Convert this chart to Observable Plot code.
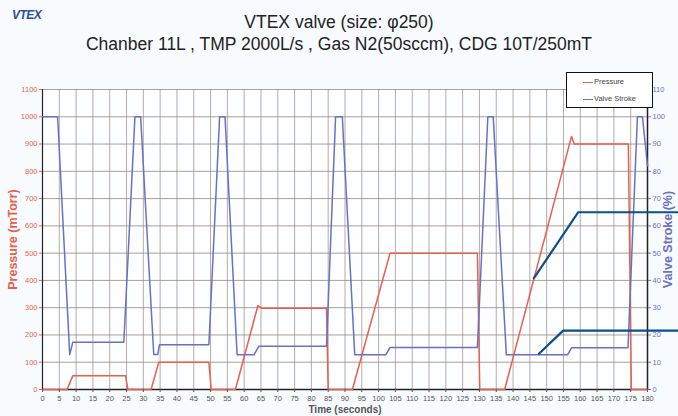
<!DOCTYPE html>
<html>
<head>
<meta charset="utf-8">
<script src="https://cdn.jsdelivr.net/npm/d3@7"></script>
<script src="https://cdn.jsdelivr.net/npm/@observablehq/plot@0.6"></script>
<style>
  html, body { margin: 0; padding: 0; background: #f8fbfd; }
  #wrap { position: relative; width: 678px; height: 416px; overflow: hidden; font-family: "Liberation Sans", Arial, sans-serif; }
  .title { position: absolute; left: 0; width: 678px; text-align: center; color: #222; font-family: "Liberation Sans", Arial, sans-serif; font-size: 17.5px; line-height: 20px; white-space: nowrap; }
  #logo { position: absolute; left: 12px; top: 8px; color: #27509e; font-weight: bold; font-style: italic; font-size: 12px; letter-spacing: -0.5px; }
  #chart { position: absolute; left: 0; top: 60px; }
  #legend { position: absolute; left: 566px; top: 72px; width: 85px; height: 34px; border: 1.5px solid #111; background: #fff; font-size: 7.5px; color: #444; }
  .lg { position: absolute; left: 16px; height: 10px; line-height: 10px; white-space: nowrap; }
  .lg span.sw { display: inline-block; width: 10px; height: 0; border-top: 1.5px solid; vertical-align: middle; margin-right: 1px; }
</style>
</head>
<body>
<div id="wrap">
  <div id="logo">VTEX</div>
  <div class="title" style="top:12px">VTEX valve (size: φ250)</div>
  <div class="title" style="top:34px">Chanber 11L , TMP 2000L/s , Gas N2(50sccm), CDG 10T/250mT</div>
  <div id="chart"></div>
  <div id="legend">
    <div class="lg" style="top:4px"><span class="sw" style="border-color:#e8604c"></span>Pressure</div>
    <div class="lg" style="top:21px"><span class="sw" style="border-color:#6b70c2"></span>Valve Stroke</div>
  </div>
</div>
<script>
// Pressure (mTorr) vs time (s)
const timeP    = [0, 7.3, 9.0, 24.7, 25.4, 32.3, 34.6, 49.5, 50.2, 57.4, 64.1, 65.2, 84.5, 85.0, 92.2, 103.4, 129.4, 130.1, 137.5, 157.4, 158.2, 174.3, 175.2, 180];
const pressure = [0, 0,   50,  50,   0,    0,    100,  100,  0,    0,    308,  298,  298,  0,    0,    500,   500,   0,     0,     928,   900,   900,   0,     0];

// Valve stroke (%) vs time (s)
const timeV       = [0, 4.5, 8.1, 9.0, 24.2, 27.5, 29.2, 33.1, 34.3, 34.8, 49.5, 52.7, 54.3, 57.9, 62.9, 64.4, 84.5, 87.2, 89.2, 92.9, 102.1, 103.4, 129.4, 132.5, 134.1, 138.0, 156.2, 157.4, 174.2, 177.0, 178.5, 180];
const valveStroke = [100, 100, 12.8, 17.3, 17.3, 100, 100, 12.8, 12.8, 16.4, 16.4, 100, 100, 12.7, 12.7, 15.9, 15.9, 100, 100, 12.7, 12.7, 15.4, 15.4, 100, 100, 12.7, 12.7, 15.3, 15.3, 100, 100, 82];

// Callout lines (time s, pressure-axis units)
const callout1T = [146.2, 159.4, 189.5];
const callout1Y = [408, 650, 650];
const callout2T = [147.7, 154.9, 189.5];
const callout2Y = [131, 216, 216];

// Ticks
const xTicks = d3.range(0, 181, 5);
const yTicks = d3.range(0, 1101, 100);

const pData = timeP.map((t, i) => ({t, v: pressure[i]}));
const vData = timeV.map((t, i) => ({t, v: valveStroke[i] * 10}));
const c1 = callout1T.map((t, i) => ({t, v: callout1Y[i]}));
const c2 = callout2T.map((t, i) => ({t, v: callout2Y[i]}));

const red = "#e8604c", blue = "#6b70c2";

const chart = Plot.plot({
  width: 678,
  height: 356,
  marginTop: 29,
  marginBottom: 27,
  marginLeft: 42,
  marginRight: 31,
  style: { background: "transparent", fontFamily: "Liberation Sans, Arial, sans-serif", fontSize: "8px", overflow: "visible" },
  x: { domain: [0, 180] },
  y: { domain: [0, 1100] },
  marks: [
    Plot.frame({fill: "#fdfeff", stroke: "none"}),
    Plot.gridX(xTicks, {stroke: "#9c928a", strokeOpacity: 0.75, strokeWidth: 1}),
    Plot.gridY(yTicks, {stroke: "#8c827a", strokeOpacity: 0.75, strokeWidth: 1}),
    Plot.ruleY([0], {stroke: "#222", strokeWidth: 1.5}),
    Plot.ruleX([0], {stroke: "#222", strokeWidth: 1.2}),
    Plot.ruleX([180], {stroke: "#222", strokeWidth: 1.5}),
    Plot.line(pData, {x: "t", y: "v", stroke: red, strokeWidth: 1.5}),
    Plot.line(vData, {x: "t", y: "v", stroke: blue, strokeWidth: 1.5}),
    Plot.line(c1, {x: "t", y: "v", stroke: "#0d4f8b", strokeWidth: 2.2, clip: false}),
    Plot.line(c2, {x: "t", y: "v", stroke: "#0d4f8b", strokeWidth: 2.2, clip: false}),
    Plot.axisX({ticks: xTicks, tickSize: 3, tickPadding: 3, color: "#555", fontSize: 7.5,
      label: "Time (seconds)", labelAnchor: "center", labelOffset: 23, labelArrow: false}),
    Plot.axisY({anchor: "left", ticks: yTicks, tickSize: 3, tickPadding: 2, color: red, fontSize: 7.5,
      tickFormat: d => String(d),
      label: "Pressure (mTorr)", labelAnchor: "center", labelOffset: 34, labelArrow: false}),
    Plot.axisY({anchor: "right", ticks: yTicks, tickSize: 3, tickPadding: 2, color: blue, fontSize: 7.5,
      tickFormat: d => String(d / 10),
      label: "Valve Stroke (%)", labelAnchor: "center", labelOffset: 24, labelArrow: false})
  ]
});
document.getElementById("chart").appendChild(chart);

// Style axis titles larger and bold
chart.querySelectorAll("g[aria-label='y-axis label'] text").forEach(el => {
  el.style.fontSize = "12.5px";
  el.style.fontWeight = "bold";
});
chart.querySelectorAll("g[aria-label='x-axis label'] text").forEach(el => {
  el.style.fontSize = "10px";
  el.style.fontWeight = "bold";
});
</script>
</body>
</html>
